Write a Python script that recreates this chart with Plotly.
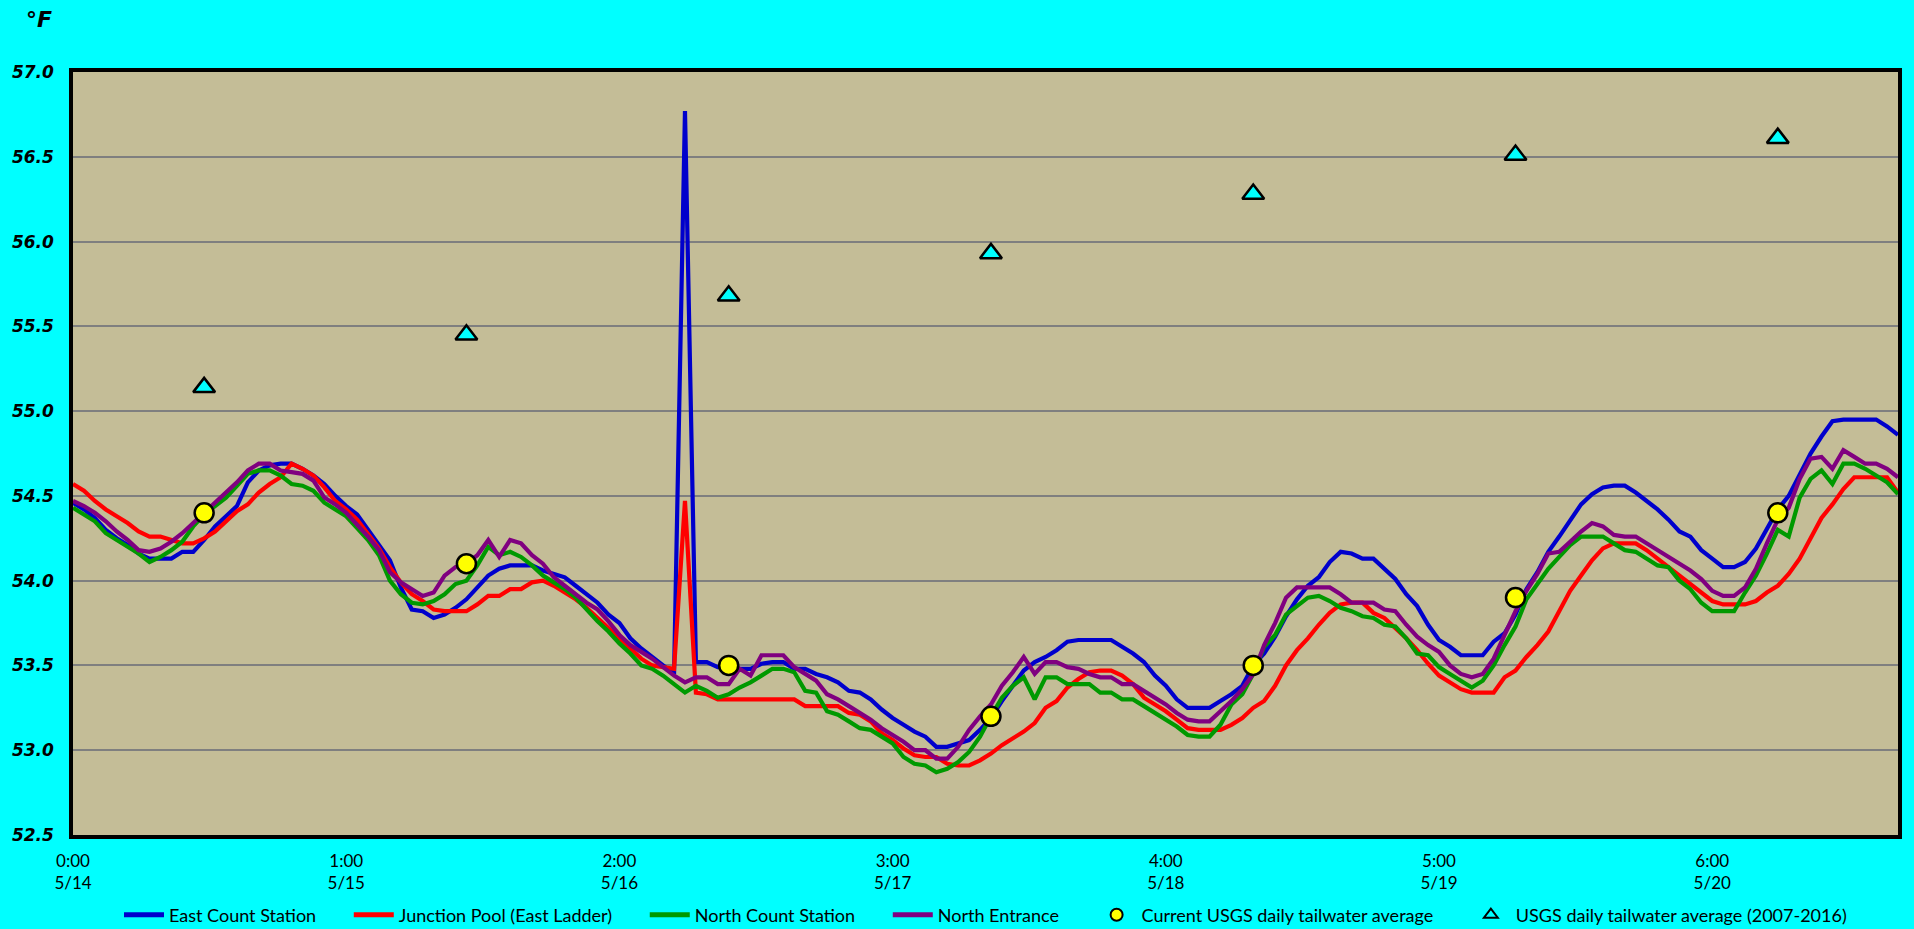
import pandas as pd
import plotly.graph_objects as go

# Hourly timestamps (5/14 0:00 .. 5/20 23:00)
times = pd.date_range("2017-05-14 00:00", periods=168, freq="h")

east_count = [
    54.46, 54.42, 54.37, 54.30, 54.25, 54.21, 54.16, 54.13, 54.13, 54.13,
    54.17, 54.17, 54.24, 54.32, 54.38, 54.44, 54.58, 54.65, 54.68, 54.69,
    54.69, 54.66, 54.62, 54.57, 54.50, 54.44, 54.39, 54.30, 54.21, 54.12,
    53.96, 53.83, 53.82, 53.78,
    53.80, 53.84, 53.89, 53.96, 54.03, 54.07,
    54.09, 54.09, 54.09, 54.06, 54.04, 54.02, 53.97, 53.92, 53.87, 53.80,
    53.75, 53.66, 53.60, 53.55, 53.50, 53.45, 56.77, 53.52, 53.52, 53.49,
    53.49, 53.48, 53.48, 53.51, 53.52, 53.52, 53.48, 53.48,
    53.45, 53.43, 53.40, 53.35, 53.34, 53.30, 53.24, 53.19, 53.15, 53.11, 53.08, 53.02,
    53.02, 53.04, 53.06, 53.12, 53.19, 53.29, 53.38, 53.47, 53.52, 53.55,
    53.59, 53.64, 53.65, 53.65, 53.65, 53.65, 53.61, 53.57, 53.52, 53.44, 53.38, 53.30,
    53.25, 53.25, 53.25, 53.29, 53.33, 53.38, 53.50, 53.57, 53.67, 53.79,
    53.89, 53.97, 54.02, 54.11, 54.17, 54.16, 54.13, 54.13, 54.07, 54.01,
    53.92, 53.85, 53.74, 53.65, 53.61, 53.56, 53.56, 53.56, 53.64, 53.69, 53.80, 53.95,
    54.05, 54.17, 54.26, 54.36, 54.45, 54.51, 54.55, 54.56, 54.56, 54.52,
    54.47, 54.42, 54.36, 54.29, 54.26, 54.18, 54.13, 54.08, 54.08, 54.11,
    54.19, 54.31, 54.42, 54.50, 54.63, 54.75, 54.85, 54.94, 54.95, 54.95,
    54.95, 54.95, 54.91, 54.86,
]

junction_pool = [
    54.57, 54.53, 54.47, 54.42, 54.38, 54.34, 54.29, 54.26, 54.26, 54.24,
    54.22, 54.22, 54.25, 54.29, 54.35, 54.41, 54.45, 54.52, 54.57, 54.61,
    54.69, 54.66, 54.62, 54.55, 54.47, 54.42, 54.36, 54.27, 54.19, 54.08,
    53.99, 53.92, 53.88, 53.83,
    53.82, 53.82, 53.82, 53.86, 53.91, 53.91,
    53.95, 53.95, 53.99, 54.00, 53.97, 53.93, 53.89, 53.84, 53.78, 53.72,
    53.66, 53.60, 53.54, 53.50, 53.49, 53.48, 54.47, 53.34, 53.33, 53.30,
    53.30, 53.30, 53.30, 53.30, 53.30, 53.30, 53.30, 53.26,
    53.26, 53.26, 53.26, 53.22, 53.21, 53.17, 53.10, 53.06, 53.01, 52.97, 52.96, 52.96,
    52.92, 52.91, 52.91, 52.94, 52.98, 53.03, 53.07, 53.11, 53.16, 53.25,
    53.29, 53.37, 53.42, 53.46, 53.47, 53.47, 53.44, 53.39, 53.31, 53.27, 53.23, 53.18,
    53.13, 53.12, 53.12, 53.12, 53.15, 53.19, 53.25, 53.29, 53.38, 53.50,
    53.59, 53.66, 53.74, 53.81, 53.86, 53.87, 53.87, 53.81, 53.78, 53.72,
    53.66, 53.59, 53.51, 53.44, 53.40, 53.36, 53.34, 53.34, 53.34, 53.43, 53.47, 53.55,
    53.62, 53.70, 53.82, 53.94, 54.03, 54.12, 54.19, 54.22, 54.22, 54.22,
    54.18, 54.13, 54.08, 54.03, 53.98, 53.93, 53.88, 53.86, 53.86, 53.86,
    53.88, 53.93, 53.97, 54.04, 54.13, 54.25, 54.37, 54.45, 54.54, 54.61,
    54.61, 54.61, 54.61, 54.52,
]

north_count = [
    54.43, 54.39, 54.35, 54.28, 54.24, 54.20, 54.16, 54.11, 54.14, 54.18,
    54.23, 54.32, 54.39, 54.44, 54.49, 54.56, 54.63, 54.65, 54.65, 54.62,
    54.57, 54.56, 54.53, 54.46, 54.42, 54.38, 54.31, 54.24, 54.15, 54.00,
    53.92, 53.87, 53.86, 53.88,
    53.92, 53.98, 54.00, 54.09, 54.20, 54.15,
    54.17, 54.14, 54.09, 54.03, 53.99, 53.95, 53.90, 53.83, 53.76, 53.70,
    53.63, 53.57, 53.50, 53.48, 53.44, 53.39, 53.34, 53.38, 53.35, 53.31,
    53.33, 53.37, 53.40, 53.44, 53.48, 53.48, 53.46, 53.35,
    53.34, 53.23, 53.21, 53.17, 53.13, 53.12, 53.08, 53.04, 52.96, 52.92, 52.91, 52.87,
    52.89, 52.93, 52.99, 53.08, 53.20, 53.31, 53.38, 53.43, 53.30, 53.43,
    53.43, 53.39, 53.39, 53.39, 53.34, 53.34, 53.30, 53.30, 53.26, 53.22, 53.18, 53.14,
    53.09, 53.08, 53.08, 53.15, 53.27, 53.33, 53.45, 53.61, 53.68, 53.80,
    53.85, 53.90, 53.91, 53.88, 53.84, 53.82, 53.79, 53.78, 53.74, 53.73,
    53.66, 53.57, 53.56, 53.49, 53.45, 53.41, 53.37, 53.41, 53.50, 53.62, 53.73, 53.89,
    53.98, 54.07, 54.14, 54.21, 54.26, 54.26, 54.26, 54.22, 54.18, 54.17,
    54.13, 54.09, 54.08, 54.00, 53.95, 53.87, 53.82, 53.82, 53.82, 53.93,
    54.03, 54.16, 54.30, 54.26, 54.49, 54.60, 54.65, 54.57, 54.69, 54.69,
    54.66, 54.62, 54.58, 54.51,
]

north_entrance = [
    54.47, 54.44, 54.40, 54.35, 54.29, 54.24, 54.18, 54.17, 54.19, 54.23,
    54.28, 54.34, 54.40, 54.46, 54.52, 54.58, 54.65, 54.69, 54.69, 54.65,
    54.64, 54.63, 54.59, 54.49, 54.45, 54.40, 54.33, 54.26, 54.18, 54.05,
    53.99, 53.95, 53.91, 53.93,
    54.03, 54.08, 54.10, 54.15, 54.24, 54.14,
    54.24, 54.22, 54.15, 54.10, 54.02, 53.97, 53.92, 53.87, 53.83, 53.76,
    53.68, 53.62, 53.58, 53.54, 53.49, 53.44, 53.40, 53.43, 53.43, 53.39,
    53.39, 53.48, 53.44, 53.56, 53.56, 53.56, 53.49, 53.45,
    53.41, 53.33, 53.30, 53.26, 53.22, 53.18, 53.13, 53.09, 53.05, 53.00, 53.00, 52.95,
    52.95, 53.02, 53.12, 53.20, 53.27, 53.38, 53.46, 53.55, 53.45, 53.52,
    53.52, 53.49, 53.48, 53.45, 53.43, 53.43, 53.39, 53.39, 53.35, 53.31, 53.27, 53.22,
    53.18, 53.17, 53.17, 53.23, 53.29, 53.36, 53.45, 53.62, 53.75, 53.90,
    53.96, 53.96, 53.96, 53.96, 53.92, 53.87, 53.87, 53.87, 53.83, 53.82,
    53.74, 53.67, 53.62, 53.58, 53.50, 53.45, 53.43, 53.45, 53.54, 53.68, 53.82, 53.94,
    54.04, 54.16, 54.17, 54.23, 54.29, 54.34, 54.32, 54.27, 54.26, 54.26,
    54.22, 54.18, 54.14, 54.10, 54.06, 54.01, 53.94, 53.91, 53.91, 53.96,
    54.07, 54.22, 54.36, 54.43, 54.60, 54.72, 54.73, 54.66, 54.77, 54.73,
    54.69, 54.69, 54.66, 54.61,
]

# Daily values plotted at noon
daily_times = pd.to_datetime([
    "2017-05-14 12:00", "2017-05-15 12:00", "2017-05-16 12:00", "2017-05-17 12:00",
    "2017-05-18 12:00", "2017-05-19 12:00", "2017-05-20 12:00",
])
usgs_current = [54.4, 54.1, 53.5, 53.2, 53.5, 53.9, 54.4]
usgs_hist = [55.14, 55.45, 55.68, 55.93, 56.28, 56.51, 56.61]

tick_vals = pd.to_datetime([
    "2017-05-14 00:00", "2017-05-15 01:00", "2017-05-16 02:00", "2017-05-17 03:00",
    "2017-05-18 04:00", "2017-05-19 05:00", "2017-05-20 06:00",
])
tick_text = ["0:00<br>5/14", "1:00<br>5/15", "2:00<br>5/16", "3:00<br>5/17",
             "4:00<br>5/18", "5:00<br>5/19", "6:00<br>5/20"]

PAD = "\u00a0" * 6  # spacing between legend entries

fig = go.Figure()
series = [
    ("East Count Station", east_count, "#0000CC"),
    ("Junction Pool (East Ladder)", junction_pool, "#FF0000"),
    ("North Count Station", north_count, "#009900"),
    ("North Entrance", north_entrance, "#800080"),
]
for name, vals, col in series:
    fig.add_trace(go.Scatter(x=times, y=vals, mode="lines", name=name + PAD,
                             line=dict(color=col, width=4.2)))

fig.add_trace(go.Scatter(x=daily_times, y=usgs_current, mode="markers",
                         name="Current USGS daily tailwater average" + PAD,
                         marker=dict(symbol="circle", size=19, color="#FFFF00",
                                     line=dict(color="black", width=2.5))))
fig.add_trace(go.Scatter(x=daily_times, y=usgs_hist, mode="markers",
                         name="USGS daily tailwater average (2007-2016)",
                         marker=dict(symbol="triangle-up", size=19, color="#00FFFF",
                                     line=dict(color="black", width=2.5))))

fig.update_layout(
    width=1914, height=929,
    paper_bgcolor="#00FFFF",
    plot_bgcolor="#C4BD97",
    margin=dict(l=73, r=16, t=72, b=94, autoexpand=False),
    showlegend=True,
    legend=dict(orientation="h", x=0.5, xanchor="center",
                yref="container", y=(929 - 915) / 929, yanchor="middle",
                font=dict(family="Lato, Liberation Sans, sans-serif", size=18, color="black"),
                bgcolor="rgba(0,0,0,0)", itemwidth=40, itemsizing="constant"),
    annotations=[dict(text="°F", xref="paper", yref="paper",
                      x=-0.0186, y=1.069, xanchor="center", yanchor="middle",
                      showarrow=False,
                      font=dict(family="DejaVu Sans", size=22, color="black",
                                weight="bold", style="italic"))],
)
fig.update_xaxes(
    range=[times[0], times[-1]],
    tickvals=tick_vals, ticktext=tick_text,
    tickfont=dict(family="Lato, Liberation Sans, sans-serif", size=17, color="black"),
    showgrid=False, zeroline=False,
    showline=True, mirror=True, linecolor="black", linewidth=3.5,
    ticks="", ticklabelstandoff=8,
)
fig.update_yaxes(
    range=[52.5, 57.0], dtick=0.5, tick0=52.5, tickformat=".1f",
    tickfont=dict(family="DejaVu Sans", size=17, color="black",
                  weight="bold", style="italic"),
    showgrid=True, gridcolor="#7F7F7F", gridwidth=1.5, zeroline=False,
    showline=True, mirror=True, linecolor="black", linewidth=3.5,
    ticks="", ticklabelstandoff=12,
)

fig.write_html("out.html",
               config={"displayModeBar": False},
               post_script="document.body.style.margin='0';document.body.style.overflow='hidden';")
